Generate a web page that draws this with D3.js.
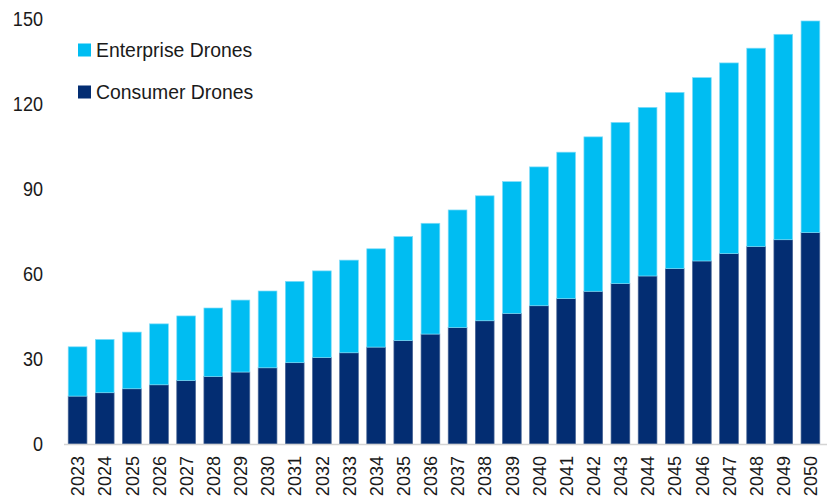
<!DOCTYPE html>
<html>
<head>
<meta charset="utf-8">
<script src="https://cdn.jsdelivr.net/npm/d3@7"></script>
<style>
  html, body { margin: 0; padding: 0; background: #ffffff; }
  svg { display: block; }
  text { font-family: "Liberation Sans", Arial, sans-serif; fill: #1a1a1a; }
</style>
</head>
<body>
<svg id="chart" width="827" height="504"></svg>
<script>
// Drone fleet outlook, stacked by segment
const years = [2023, 2024, 2025, 2026, 2027, 2028, 2029, 2030, 2031, 2032, 2033, 2034, 2035, 2036,
               2037, 2038, 2039, 2040, 2041, 2042, 2043, 2044, 2045, 2046, 2047, 2048, 2049, 2050];
const consumerDrones = [16.9, 18.1, 19.5, 20.9, 22.4, 23.8, 25.4, 26.9, 28.7, 30.5, 32.2, 34.2, 36.5, 38.8,
                        41.1, 43.5, 46.1, 48.8, 51.3, 53.9, 56.6, 59.3, 61.9, 64.6, 67.2, 69.7, 72.1, 74.6];
const enterpriseDrones = [17.4, 18.8, 20.0, 21.5, 22.8, 24.2, 25.4, 27.1, 28.7, 30.6, 32.7, 34.7, 36.7, 39.1,
                          41.5, 44.1, 46.5, 49.0, 51.7, 54.5, 56.9, 59.5, 62.2, 64.7, 67.3, 70.0, 72.5, 74.7];
const yTicks = [0, 30, 60, 90, 120, 150];
const seriesNames = ["Consumer Drones", "Enterprise Drones"];
const seriesColors = ["#032d72", "#00bdf2"];
const seriesEdges = ["#4a6796", "#7fdcf8"];

const table = years.map((yr, i) => ({
  year: yr,
  "Consumer Drones": consumerDrones[i],
  "Enterprise Drones": enterpriseDrones[i]
}));

const svg = d3.select("#chart");

const x = d3.scaleBand()
  .domain(years)
  .range([64, 824])
  .paddingInner(0.31)
  .paddingOuter(0.155);

const y = d3.scaleLinear()
  .domain([0, 150])
  .range([444, 19]);

const stacked = d3.stack().keys(seriesNames)(table);

// Stacked bars
svg.append("g")
  .selectAll("g")
  .data(stacked)
  .join("g")
    .attr("fill", (d, i) => seriesColors[i])
    .attr("stroke", (d, i) => seriesEdges[i])
    .attr("stroke-width", 0.7)
  .selectAll("rect")
  .data(d => d)
  .join("rect")
    .attr("x", d => x(d.data.year))
    .attr("width", x.bandwidth())
    .attr("y", d => y(d[1]))
    .attr("height", d => y(d[0]) - y(d[1]));

// Category axis along the bottom
const xAxis = svg.append("g")
  .attr("transform", `translate(0,${y(0)})`)
  .call(d3.axisBottom(x).tickSize(0).tickPadding(0));
xAxis.select(".domain").remove();
svg.append("line")
  .attr("x1", 64).attr("x2", 827)
  .attr("y1", y(0) + 0.5).attr("y2", y(0) + 0.5)
  .attr("stroke", "#d4d4d4")
  .attr("stroke-width", 1.6);
xAxis.selectAll(".tick text")
  .attr("font-family", "Liberation Sans, Arial, sans-serif")
  .attr("font-size", 19)
  .attr("fill", "#1a1a1a")
  .attr("text-anchor", "end")
  .attr("transform", "translate(0,12) rotate(-90) scale(0.95,1)")
  .attr("x", 0)
  .attr("y", 0)
  .attr("dy", "0.35em");

// Value axis on the left, labels only
const yAxis = svg.append("g")
  .attr("transform", "translate(43,0)")
  .call(d3.axisLeft(y).tickValues(yTicks).tickSize(0).tickPadding(0));
yAxis.select(".domain").remove();
yAxis.selectAll(".tick text")
  .attr("font-family", "Liberation Sans, Arial, sans-serif")
  .attr("font-size", 21)
  .attr("fill", "#1a1a1a")
  .attr("text-anchor", "end")
  .attr("transform", "scale(0.86,1)")
  .attr("x", 0);

// Legend, top-left inside the plot
const legendItems = [
  { name: "Enterprise Drones", color: seriesColors[1], cy: 50 },
  { name: "Consumer Drones", color: seriesColors[0], cy: 92 }
];
const legend = svg.append("g");
legend.selectAll("rect")
  .data(legendItems)
  .join("rect")
    .attr("x", 78)
    .attr("y", d => d.cy - 6.5)
    .attr("width", 13)
    .attr("height", 13)
    .attr("fill", d => d.color);
legend.selectAll("text")
  .data(legendItems)
  .join("text")
    .attr("transform", d => `translate(96,${d.cy}) scale(0.97,1)`)
    .attr("dy", "0.35em")
    .attr("font-size", 20)
    .text(d => d.name);
</script>
</body>
</html>
